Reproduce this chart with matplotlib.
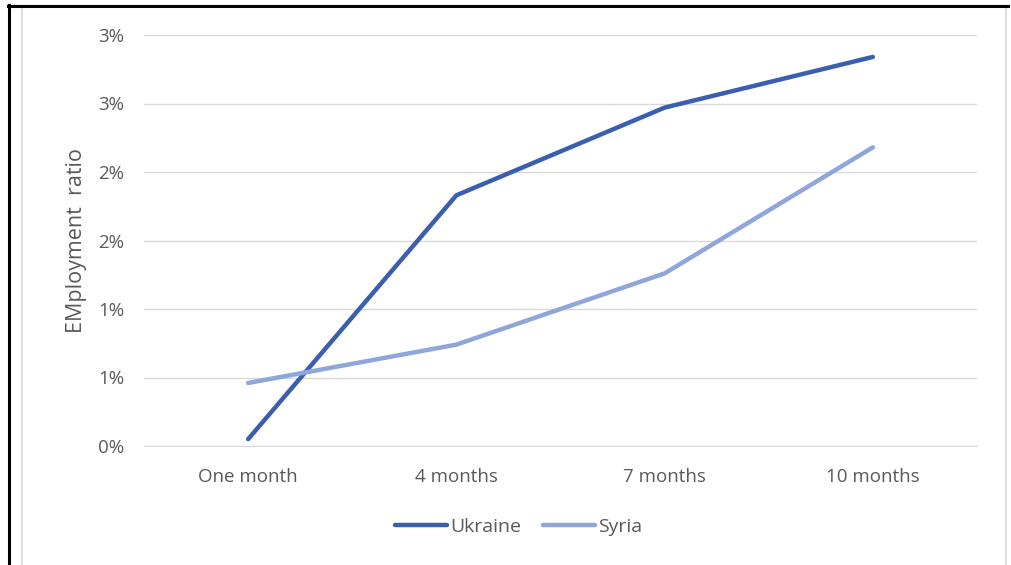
import numpy as np
import matplotlib
matplotlib.use('Agg')
import matplotlib.pyplot as plt
from matplotlib.lines import Line2D
from matplotlib.patches import Rectangle

# data (percent)
periods = ['One month', '4 months', '7 months', '10 months']
ukraine = [0.05, 1.83, 2.47, 2.84]
syria = [0.46, 0.74, 1.26, 2.18]
yticks = [0, 0.5, 1.0, 1.5, 2.0, 2.5, 3.0]
ytick_labels = ['0%', '1%', '1%', '2%', '2%', '3%', '3%']

C_UKR = '#3A5FAE'
C_SYR = '#8EA6DA'
TXT = '#595959'

plt.rcParams['font.family'] = ['Open Sans', 'DejaVu Sans']

fig = plt.figure(figsize=(10.12, 5.65), dpi=100)
W, H = 1012, 565

# outer frame: black left/top, light grey chart border
fig.add_artist(Line2D([8.5 / W, 8.5 / W], [0, 1 - 5 / H], transform=fig.transFigure,
                      color='black', lw=2.2))
fig.add_artist(Line2D([8 / W, 1008 / W], [1 - 5.5 / H, 1 - 5.5 / H], transform=fig.transFigure,
                      color='black', lw=2.2))
fig.add_artist(Rectangle((22.5 / W, -0.05), (1006 - 22.5) / W, 1.05 - 7.5 / H,
                         transform=fig.transFigure, fill=False, ec='#D9D9D9', lw=1.2))

ax = fig.add_axes([144 / W, 1 - 446 / H, (977 - 144) / W, (446 - 35) / H])
x = np.arange(len(periods))
ax.plot(x, ukraine, color=C_UKR, lw=3.2, solid_capstyle='round', zorder=3, label='Ukraine')
ax.plot(x, syria, color=C_SYR, lw=3.2, solid_capstyle='round', zorder=3, label='Syria')

ax.set_xlim(-0.5, len(periods) - 0.5)
ax.set_ylim(0, 3.0)
ax.set_yticks(yticks)
ax.set_yticklabels(ytick_labels)
ax.set_xticks(x)
ax.set_xticklabels(periods)
ax.grid(axis='y', color='#D9D9D9', lw=1)
ax.set_axisbelow(True)
for s in ax.spines.values():
    s.set_visible(False)
ax.spines['bottom'].set_visible(True)
ax.spines['bottom'].set_color('#D9D9D9')
ax.tick_params(length=0, labelsize=13.5, colors=TXT)
ax.tick_params(axis='y', pad=14)
ax.tick_params(axis='x', pad=16)
ax.set_ylabel('EMployment  ratio', fontsize=15.5, color=TXT, labelpad=8)

leg = fig.legend(loc='center', bbox_to_anchor=(519 / W, 1 - 527 / H), ncol=2, frameon=False,
                 fontsize=14, handlelength=2.65, handletextpad=0.2, columnspacing=1.1)
for t in leg.get_texts():
    t.set_color(TXT)

plt.savefig('out.png', dpi=100)
